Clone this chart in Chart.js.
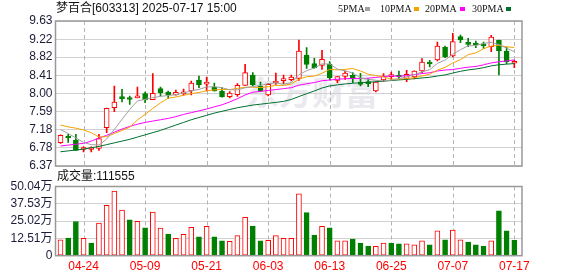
<!DOCTYPE html>
<html><head><meta charset="utf-8">
<script src="https://cdn.jsdelivr.net/npm/chart.js@4.4.1/dist/chart.umd.min.js"></script>
<style>
html,body{margin:0;padding:0;background:#fff;}
body{width:578px;height:276px;position:relative;overflow:hidden;font-family:"Liberation Sans","Noto Sans CJK SC",sans-serif;}
.abs{position:absolute;white-space:nowrap;}
#wm{left:246px;top:71px;font:bold 33px "Noto Sans CJK SC";color:#e9e9ee;line-height:40px;}
#title{left:56px;top:1px;font-size:12px;line-height:15px;color:#111;}
.lg{top:2px;font:10px "Liberation Serif",serif;line-height:14px;color:#111;}
.sq{top:7px;width:5px;height:4px;}
#vol{left:57px;top:169px;font-size:12px;line-height:15px;color:#111;}
canvas{position:absolute;left:0;}
</style></head>
<body>
<div id="wm" class="abs">东方财富</div>
<canvas id="c1" width="578" height="176" style="top:0"></canvas>
<canvas id="c2" width="578" height="106" style="top:170px"></canvas>
<div id="title" class="abs">梦百合[603313] 2025-07-17 15:00</div>
<span class="abs lg" style="left:338px">5PMA</span><span class="abs sq" style="left:365px;background:#a0a0a0"></span>
<span class="abs lg" style="left:380px">10PMA</span><span class="abs sq" style="left:414px;background:#f5a300"></span>
<span class="abs lg" style="left:425px">20PMA</span><span class="abs sq" style="left:460px;background:#ff00ff"></span>
<span class="abs lg" style="left:472px">30PMA</span><span class="abs sq" style="left:506px;background:#007030"></span>
<div id="vol" class="abs">成交量:111555</div>
<script>
const dates = ['04-21','04-22','04-23','04-24','04-25','04-28','04-29','04-30','05-06','05-07',
'05-08','05-09','05-12','05-13','05-14','05-15','05-16','05-19','05-20','05-21',
'05-22','05-23','05-26','05-27','05-28','05-29','05-30','06-03','06-04','06-05',
'06-06','06-09','06-10','06-11','06-12','06-13','06-16','06-17','06-18','06-19',
'06-20','06-23','06-24','06-25','06-26','06-27','06-30','07-01','07-02','07-03',
'07-04','07-07','07-08','07-09','07-10','07-11','07-14','07-15','07-16','07-17'];
const open = [6.895,7.02,6.955,6.74,6.74,6.767,7.232,7.682,7.921,7.88,
7.90,7.996,7.861,8.109,8.034,7.966,7.99,8.056,8.304,8.21,
8.146,8.049,7.929,7.974,8.184,8.416,8.161,7.966,8.236,8.29,
8.311,8.341,8.866,8.671,8.633,8.656,8.296,8.386,8.409,8.259,
8.236,8.056,8.304,8.379,8.416,8.341,8.371,8.506,8.693,8.753,
9.045,8.843,9.278,9.15,9.12,9.09,9.053,9.195,8.956,8.68];
const high = [7.07,7.08,7.08,6.805,6.80,7.08,7.67,8.169,8.094,7.944,
8.146,8.034,8.446,8.146,8.056,8.079,8.10,8.281,8.393,8.371,
8.236,8.131,8.041,8.221,8.656,8.468,8.259,8.229,8.461,8.416,
8.416,9.203,9.03,8.791,8.971,8.716,8.38,8.506,8.468,8.453,
8.334,8.26,8.446,8.483,8.506,8.521,8.51,8.783,8.746,9.158,
9.068,9.353,9.315,9.24,9.18,9.158,9.308,9.20,9.045,8.746];
const low = [6.88,6.90,6.72,6.685,6.685,6.72,7.12,7.592,7.809,7.756,
7.90,7.794,7.86,7.944,7.891,7.96,7.96,7.966,8.131,8.056,
8.05,7.92,7.899,7.936,8.18,8.169,8.041,7.944,8.206,8.221,
8.281,8.296,8.566,8.566,8.543,8.304,8.244,8.319,8.244,8.169,
8.154,8.034,8.266,8.304,8.319,8.266,8.326,8.468,8.596,8.731,
8.806,8.82,9.143,9.053,9.03,9.015,8.941,8.416,8.671,8.581];
const close = [7.06,7.00,6.72,6.75,6.755,6.985,7.667,7.809,7.884,7.865,
7.935,7.854,8.004,8.019,7.966,8.026,8.04,8.236,8.191,8.24,
8.056,7.921,8.011,8.184,8.468,8.191,8.056,8.206,8.281,8.30,
8.371,8.956,8.656,8.581,8.768,8.356,8.379,8.461,8.334,8.206,
8.221,8.259,8.393,8.416,8.371,8.431,8.506,8.708,8.663,9.068,
8.821,9.165,9.203,9.105,9.09,9.07,9.27,8.956,8.716,8.69];
const ma5 = [7.19,7.10,7.00,6.90,6.85,6.842,6.975,7.193,7.42,7.642,
7.832,7.869,7.908,7.935,7.956,7.974,8.011,8.057,8.092,8.147,
8.153,8.129,8.084,8.082,8.128,8.155,8.182,8.221,8.240,8.207,
8.243,8.423,8.513,8.573,8.666,8.663,8.548,8.509,8.46,8.347,
8.320,8.296,8.283,8.299,8.332,8.374,8.423,8.486,8.536,8.675,
8.753,8.885,8.984,9.072,9.077,9.127,9.148,9.098,9.020,8.940];
const ma10 = [7.29,7.25,7.22,7.18,7.12,7.02,7.03,7.10,7.17,7.242,
7.404,7.531,7.664,7.789,7.894,7.922,7.96,7.996,8.024,8.061,
8.082,8.093,8.088,8.115,8.141,8.142,8.133,8.152,8.184,8.181,
8.213,8.322,8.377,8.39,8.455,8.543,8.531,8.541,8.563,8.505,
8.434,8.403,8.372,8.323,8.326,8.335,8.353,8.393,8.434,8.525,
8.588,8.686,8.76,8.874,8.915,9.006,9.066,9.085,9.049,9.034];
const ma20 = [6.82,6.84,6.86,6.88,6.93,7.00,7.06,7.13,7.20,7.26,
7.31,7.35,7.38,7.41,7.44,7.48,7.53,7.57,7.61,7.650,
7.700,7.746,7.811,7.882,7.968,8.028,8.048,8.068,8.088,8.109,
8.131,8.186,8.219,8.247,8.287,8.303,8.320,8.332,8.339,8.337,
8.345,8.362,8.381,8.393,8.388,8.400,8.423,8.448,8.467,8.505,
8.528,8.538,8.566,8.592,8.608,8.644,8.688,8.713,8.732,8.756];
const ma30 = [6.69,6.71,6.73,6.75,6.78,6.81,6.85,6.89,6.93,6.97,
7.02,7.07,7.12,7.17,7.23,7.29,7.35,7.41,7.46,7.51,
7.56,7.60,7.64,7.68,7.71,7.74,7.76,7.78,7.80,7.823,
7.866,7.932,7.996,8.057,8.124,8.170,8.194,8.215,8.230,8.242,
8.251,8.265,8.278,8.291,8.305,8.318,8.334,8.349,8.365,8.393,
8.418,8.460,8.499,8.530,8.551,8.580,8.621,8.646,8.660,8.673];
const volume = [11.4,12.8,24.7,12.6,9.2,23.5,36.5,46.7,32.9,25.9,
24.9,20.1,31.5,19.9,15.7,12.6,15.5,20.6,13.6,21.3,
13.6,10.7,10.4,14.5,27.8,21.5,10.7,11.2,14.5,12.6,
12.6,44.7,31.2,15.0,21.3,20.1,10.7,10.7,12.1,9.2,
7.0,6.8,9.2,9.2,8.5,8.5,7.8,10.7,7.8,17.9,
11.4,18.6,11.4,9.9,7.8,7.0,10.7,32.4,17.9,11.1555];
const volUp = [1,0,0,1,0,1,1,1,1,0,
1,0,1,1,0,1,1,1,0,1,
0,0,1,1,1,0,0,1,1,1,
1,1,0,0,1,0,1,1,0,0,
0,1,1,0,0,1,1,1,0,1,
0,1,1,0,0,0,1,0,0,0];
const priceTicks = [6.37,6.78,7.18,7.59,8.00,8.41,8.82,9.22,9.63];
const volTicks = [0,12.51,25.02,37.53,50.04];
const dateTicks = ['04-24','05-09','05-21','06-03','06-13','06-25','07-07','07-17'];

const RED = '#ff0000', GREEN = '#008000';
const idx = dates.map((d, i) => i);
const up = idx.map(i => close[i] >= open[i]);
const FONT = 'Liberation Sans, "Noto Sans CJK SC", sans-serif';

const framePlugin = {
  id: 'frame',
  beforeDatasetsDraw(chart) {
    const {ctx, chartArea: a, scales: {x}} = chart;
    ctx.save();
    ctx.strokeStyle = '#b4b4b4';
    ctx.lineWidth = 1;
    ctx.setLineDash([4, 3]);
    dateTicks.forEach(d => {
      const px = Math.round(x.getPixelForValue(dates.indexOf(d))) + 0.5;
      ctx.beginPath();
      ctx.moveTo(px, a.top);
      ctx.lineTo(px, a.bottom);
      ctx.stroke();
    });
    ctx.restore();
  },
  afterDraw(chart) {
    const {ctx, chartArea: a} = chart;
    ctx.save();
    ctx.strokeStyle = '#999';
    ctx.lineWidth = 1.5;
    ctx.strokeRect(a.left, a.top, a.right - a.left, a.bottom - a.top);
    ctx.restore();
  }
};

function xScale(showLabels) {
  return {
    type: 'linear', min: -0.65, max: 60, bounds: 'data', offset: false,
    afterBuildTicks: s => { s.ticks = dateTicks.map(d => ({value: dates.indexOf(d)})); },
    grid: {display: false, drawTicks: false, offset: false},
    border: {display: false},
    ticks: {display: showLabels, autoSkip: false, maxRotation: 0, padding: 4, color: RED,
      font: {family: FONT, size: 12}, callback: v => dates[v] ?? ''},
    afterFit: s => { s.height = showLabels ? 20.3 : 0; s.paddingLeft = 0; s.paddingRight = 0; }
  };
}
function yScale(min, max, ticks, fmt) {
  return {
    min, max, bounds: 'data',
    afterBuildTicks: s => { s.ticks = ticks.map(v => ({value: v})); },
    grid: {color: '#d2d2d2', drawTicks: false},
    border: {display: false},
    ticks: {padding: 3, autoSkip: false, color: '#1c1c38', font: {family: FONT, size: 12}, callback: fmt},
    afterFit: s => { s.width = 55.5; s.paddingTop = 0; s.paddingBottom = 0; }
  };
}
const lineDs = (arr, color) => ({
  type: 'line', data: idx.map(i => ({x: i, y: arr[i]})), borderColor: color,
  borderWidth: 1, pointRadius: 0, tension: 0, order: 0
});

new Chart(document.getElementById('c1'), {
  type: 'bar',
  data: {datasets: [
    lineDs(ma5, '#a0a0a0'), lineDs(ma10, '#f5a300'), lineDs(ma20, '#ff00ff'), lineDs(ma30, '#007030'),
    {type: 'bar', data: idx.map(i => ({x: i, y: [low[i], high[i]]})),
      backgroundColor: idx.map(i => up[i] ? RED : GREEN), barThickness: 1, grouped: false, order: 6},
    {type: 'bar', data: idx.map(i => ({x: i, y: [open[i], close[i]]})),
      backgroundColor: idx.map(i => up[i] ? '#ffffff' : GREEN),
      borderColor: idx.map(i => up[i] ? RED : GREEN), borderWidth: 1, borderSkipped: false,
      barThickness: 5, minBarLength: 2, grouped: false, order: 5}
  ]},
  options: {
    responsive: false, animation: false, events: [],
    layout: {padding: {left: 0, right: 56, top: 21, bottom: 10}},
    plugins: {legend: {display: false}, tooltip: {enabled: false}},
    scales: {x: xScale(false), y: yScale(6.37, 9.63, priceTicks, v => v.toFixed(2))}
  },
  plugins: [framePlugin]
});

new Chart(document.getElementById('c2'), {
  type: 'bar',
  data: {datasets: [
    {data: idx.map(i => ({x: i, y: volume[i]})),
      backgroundColor: idx.map(i => volUp[i] ? '#ffffff' : GREEN),
      borderColor: idx.map(i => volUp[i] ? RED : GREEN), borderWidth: 1, borderSkipped: false,
      barThickness: 5, grouped: false}
  ]},
  options: {
    responsive: false, animation: false, events: [],
    layout: {padding: {left: 0, right: 56, top: 16.5, bottom: 0}},
    plugins: {legend: {display: false}, tooltip: {enabled: false}},
    scales: {x: xScale(true), y: yScale(0, 50.04, volTicks, v => v === 0 ? '0' : v.toFixed(2) + '万')}
  },
  plugins: [framePlugin]
});
</script>
</body></html>
